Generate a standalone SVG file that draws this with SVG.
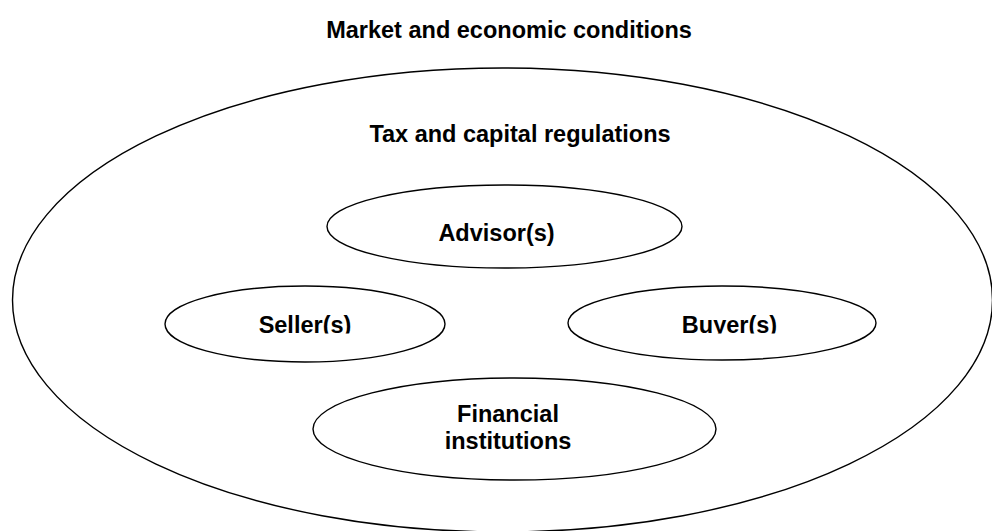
<svg xmlns="http://www.w3.org/2000/svg" width="992" height="531" viewBox="0 0 992 531">
  <style>
    .ring { fill: none; stroke: #000; stroke-width: 1.4; }
    .lbl { font-family: "Liberation Sans", Arial, sans-serif; font-weight: bold; font-size: 23.5px; fill: #000; text-anchor: middle; }
  </style>
  <defs>
    <!-- labels of the middle row are cut off just below their baseline -->
    <clipPath id="rowClip">
      <rect x="0" y="0" width="992" height="333.5"/>
    </clipPath>
  </defs>
  <rect x="0" y="0" width="992" height="531" fill="#fff"/>

  <g id="market">
    <text class="lbl" x="509" y="38">Market and economic conditions</text>
  </g>

  <g id="regulations">
    <ellipse class="ring" cx="502.5" cy="300" rx="490" ry="232"/>
    <text class="lbl" x="520" y="142">Tax and capital regulations</text>
  </g>

  <g id="advisors">
    <ellipse class="ring" cx="504.5" cy="226.5" rx="177.5" ry="41.5"/>
    <text class="lbl" x="496.5" y="241">Advisor(s)</text>
  </g>

  <g id="sellers">
    <ellipse class="ring" cx="305" cy="324" rx="140" ry="38"/>
    <text class="lbl" x="305" y="333" clip-path="url(#rowClip)">Seller(s)</text>
  </g>

  <g id="buyers">
    <ellipse class="ring" cx="722" cy="323" rx="154" ry="37"/>
    <text class="lbl" x="729.5" y="333" clip-path="url(#rowClip)">Buyer(s)</text>
  </g>

  <g id="financial">
    <ellipse class="ring" cx="514.5" cy="429" rx="201.5" ry="51"/>
    <text class="lbl" x="508" y="421.5">Financial</text>
    <text class="lbl" x="508" y="448.5">institutions</text>
  </g>

  <g id="connectors"/>
</svg>
